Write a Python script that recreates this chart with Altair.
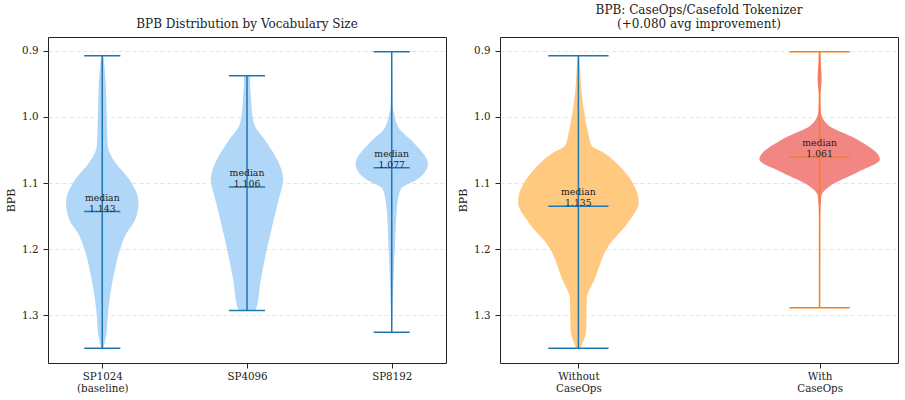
import altair as alt
import pandas as pd

FONT = "DejaVu Serif"

# ---------------- data ----------------
left_names = ["SP1024\n(baseline)", "SP4096", "SP8192"]
left_pos = [1, 2, 3]
left_min = [0.9076, 0.9378, 0.9015]
left_max = [1.3497, 1.2928, 1.3255]
left_median = [1.143, 1.106, 1.077]

right_names = ["Without\nCaseOps", "With\nCaseOps"]
right_pos = [1, 2]
right_min = [0.9076, 0.9015]
right_max = [1.3497, 1.2887]
right_median = [1.135, 1.061]

# violin outlines: BPB level and relative half-width
sp1024_bpb = [0.9076, 0.943, 0.993, 1.043, 1.069, 1.094, 1.129, 1.154, 1.179, 1.199, 1.244, 1.295, 1.330, 1.3497]
sp1024_dens = [0.03, 0.09, 0.12, 0.15, 0.36, 0.74, 1.0, 0.92, 0.64, 0.5, 0.3, 0.16, 0.11, 0.03]

sp4096_bpb = [0.9378, 0.973, 1.008, 1.039, 1.064, 1.094, 1.124, 1.164, 1.2, 1.25, 1.285, 1.2928]
sp4096_dens = [0.08, 0.11, 0.18, 0.55, 0.83, 1.0, 0.88, 0.7, 0.55, 0.37, 0.28, 0.22]

sp8192_bpb = [0.9015, 0.94, 0.983, 0.993, 1.018, 1.039, 1.071, 1.094, 1.109, 1.134, 1.195, 1.245, 1.295, 1.3255]
sp8192_dens = [0.01, 0.015, 0.03, 0.06, 0.21, 0.61, 1.0, 0.72, 0.25, 0.15, 0.09, 0.05, 0.02, 0.01]

without_bpb = [0.9076, 0.918, 0.968, 1.023, 1.043, 1.054, 1.084, 1.129, 1.159, 1.195, 1.245, 1.275, 1.32, 1.34, 1.3497]
without_dens = [0.01, 0.02, 0.06, 0.16, 0.22, 0.42, 0.78, 1.0, 0.83, 0.5, 0.27, 0.14, 0.13, 0.08, 0.03]

with_bpb = [0.9015, 0.925, 0.943, 0.968, 0.993, 1.013, 1.033, 1.064, 1.084, 1.104, 1.119, 1.15, 1.2, 1.2887]
with_dens = [0.01, 0.025, 0.035, 0.012, 0.022, 0.15, 0.6, 1.0, 0.62, 0.18, 0.03, 0.01, 0.008, 0.005]

left_shapes = [(sp1024_bpb, sp1024_dens), (sp4096_bpb, sp4096_dens), (sp8192_bpb, sp8192_dens)]
right_shapes = [(without_bpb, without_dens), (with_bpb, with_dens)]

left_fill = ["#b0d7f8", "#b0d7f8", "#b0d7f8"]
left_line = ["#1f77b4", "#1f77b4", "#1f77b4"]
right_fill = ["#ffca80", "#f28683"]
right_line = ["#1f77b4", "#ff7f0e"]

HALF = 0.25   # violin half width (x units)
CAP = 0.125   # cap half width (x units)


def label_expr(names, pos):
    parts = []
    for p, n in zip(pos, names):
        arr = "[" + ",".join("'" + s + "'" for s in n.split("\n")) + "]"
        parts.append(f"datum.value == {p} ? {arr} : ")
    return "".join(parts) + "''"


def panel(names, pos, mins, maxs, meds, shapes, fills, lines, title):
    rows = []
    for i, (b, d) in enumerate(shapes):
        for bb, dd in zip(b, d):
            rows.append({"id": i, "bpb": bb, "lo": pos[i] - HALF * dd, "hi": pos[i] + HALF * dd, "fill": fills[i]})
    shp = pd.DataFrame(rows)

    stems = pd.DataFrame({"pos": pos, "mn": mins, "mx": maxs, "col": lines})
    caps_rows = []
    for i in range(len(pos)):
        for v in (mins[i], maxs[i], meds[i]):
            caps_rows.append({"x1": pos[i] - CAP, "x2": pos[i] + CAP, "y": v, "col": lines[i]})
    caps = pd.DataFrame(caps_rows)
    meddf = pd.DataFrame({"pos": pos, "med": meds, "txt": [f"{m:.3f}" for m in meds]})

    lo = min(mins)
    hi = max(maxs)
    pad = (hi - lo) * 0.05
    ydom = [lo - pad, hi + pad]
    xlo = min(pos) - HALF
    xhi = max(pos) + HALF
    xpad = (xhi - xlo) * 0.05
    xdom = [xlo - xpad, xhi + xpad]

    xscale = alt.Scale(domain=xdom, nice=False, zero=False)
    yscale = alt.Scale(domain=ydom, nice=False, zero=False, reverse=True)
    xaxis = alt.Axis(values=pos, labelExpr=label_expr(names, pos), title=None, grid=False,
                     labelLineHeight=12.3, labelPadding=3)
    yaxis = alt.Axis(values=[0.9, 1.0, 1.1, 1.2, 1.3], format=".1f", title="BPB", grid=True,
                     gridDash=[4, 3], gridColor="#dddddd", gridWidth=0.8)

    area = alt.Chart(shp).mark_area(orient="horizontal", interpolate="monotone", opacity=1).encode(
        y=alt.Y("bpb:Q", scale=yscale, axis=yaxis),
        x=alt.X("lo:Q", scale=xscale, axis=xaxis),
        x2="hi:Q",
        detail="id:N",
        fill=alt.Fill("fill:N", scale=None),
    )
    stem = alt.Chart(stems).mark_rule(strokeWidth=1.5).encode(
        x="pos:Q", y="mn:Q", y2="mx:Q", color=alt.Color("col:N", scale=None))
    cap = alt.Chart(caps).mark_rule(strokeWidth=1.5).encode(
        x="x1:Q", x2="x2:Q", y="y:Q", color=alt.Color("col:N", scale=None))
    t1 = alt.Chart(meddf).mark_text(text="median", dy=-14, font=FONT, fontSize=9.3, color="#222222",
                                    baseline="middle").encode(x="pos:Q", y="med:Q")
    t2 = alt.Chart(meddf).mark_text(dy=-3, font=FONT, fontSize=9.3, color="#222222",
                                    baseline="middle").encode(x="pos:Q", y="med:Q", text="txt:N")
    return alt.layer(area, stem, cap, t1, t2).properties(
        width=398, height=326,
        title=alt.TitleParams(title, font=FONT, fontSize=12, fontWeight="normal", color="#222222",
                              offset=6, lineHeight=14),
    )


left = panel(left_names, left_pos, left_min, left_max, left_median, left_shapes, left_fill, left_line,
             "BPB Distribution by Vocabulary Size")
right = panel(right_names, right_pos, right_min, right_max, right_median, right_shapes, right_fill, right_line,
              ["BPB: CaseOps/Casefold Tokenizer", "(+0.080 avg improvement)"])

chart = alt.hconcat(left, right, spacing=10).properties(
    padding={"left": 5, "top": 3, "right": 5, "bottom": 5},
    background="white",
).configure_view(stroke="#222222", strokeWidth=1).configure_axis(
    labelFont=FONT, labelFontSize=10.3, labelColor="#222222",
    titleFont=FONT, titleFontSize=11, titleFontWeight="normal", titleColor="#222222",
    domain=False, tickColor="#222222", tickSize=5, labelPadding=5, titlePadding=5,
)

chart.save("out.html", embed_options={"renderer": "svg", "actions": False})
